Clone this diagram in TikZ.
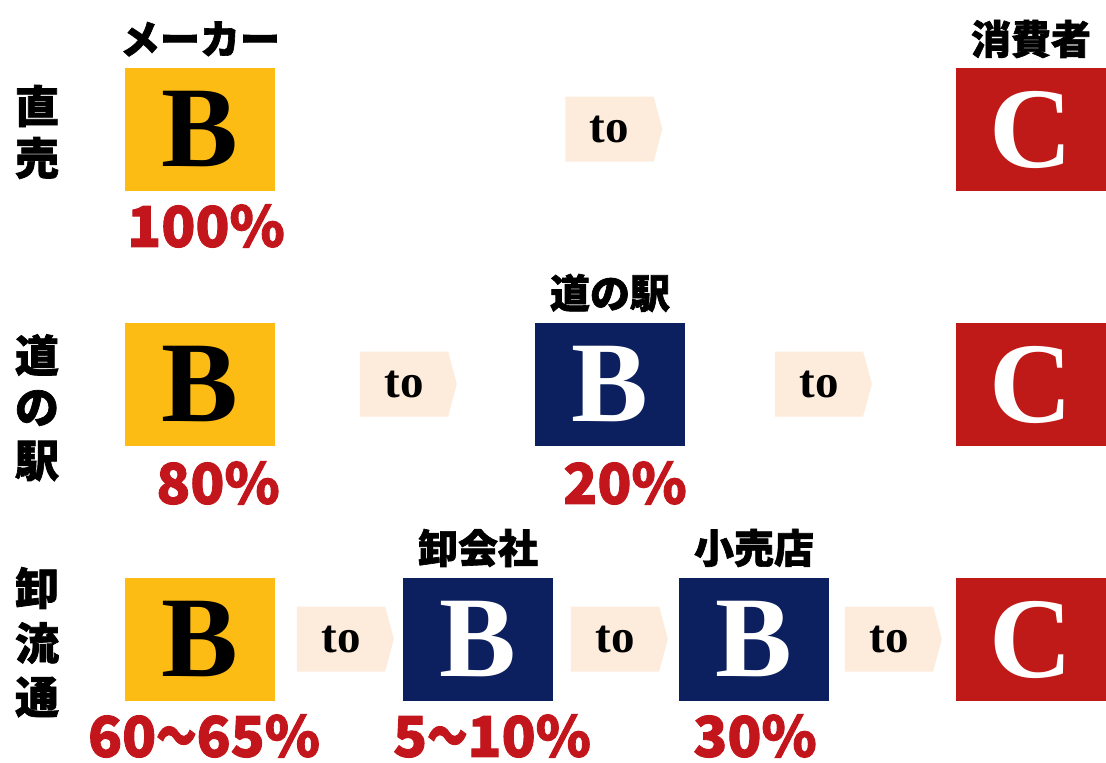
\documentclass[tikz,border=0pt]{standalone}
\usepackage{fontspec}
\usepackage{graphicx}
\setmainfont{Liberation Serif}
\newfontfamily\jp{Noto Sans CJK JP}[BoldFeatures={FakeBold=1.6}]
\usetikzlibrary{shapes.symbols}
\definecolor{byel}{HTML}{FDBC14}
\definecolor{bnavy}{HTML}{0C1F5E}
\definecolor{cred}{HTML}{BF1A17}
\definecolor{pct}{HTML}{C3161C}
\definecolor{peach}{HTML}{FDEBDC}
\newcommand{\wavedash}{\scalebox{0.72}[1]{〜}}
\newcommand{\tolabel}{\raisebox{-3pt}{to}}
\tikzset{
  boxbase/.style={minimum width=150pt, minimum height=123pt, inner sep=0pt, font=\fontsize{115}{115}\selectfont\bfseries},
  ybox/.style={boxbase, fill=byel, text=black},
  nbox/.style={boxbase, fill=bnavy, text=white},
  cbox/.style={boxbase, fill=cred, text=white},
  toarrow/.style={signal, signal to=east, signal pointer angle=150, fill=peach, minimum width=97pt, minimum height=65pt, inner sep=0pt, font=\fontsize{47}{47}\selectfont\bfseries},
  toplabel/.style={font=\jp\fontsize{40}{40}\selectfont\bfseries, inner sep=0pt},
  sidelabel/.style={font=\jp\fontsize{44}{44}\selectfont\bfseries, inner sep=0pt},
  pctlabel/.style={font=\jp\fontsize{56}{56}\selectfont\bfseries, text=pct, inner sep=0pt}
}
\begin{document}
\begin{tikzpicture}[x=1pt,y=-1pt]
\useasboundingbox (0,0) rectangle (1106,763);
% row 1
\node[ybox] (y1) at (200,129.5) {B};
\node[toarrow] (t1) at (609.5,129) {\tolabel};
\node[cbox] (c1) at (1031,129.5) {C};
\node[toplabel] (lm) at (200,39) {メーカー};
\node[toplabel] (lc) at (1031,39) {消費者};
\node[pctlabel] (p1) at (206,226) {100\%};
\node[sidelabel] (s11) at (37,106) {直};
\node[sidelabel] (s12) at (37,158) {売};
% row 2
\node[ybox] (y2) at (200,384.5) {B};
\node[toarrow] (t21) at (404,384) {\tolabel};
\node[nbox] (n2) at (610,384.5) {B};
\node[toarrow] (t22) at (819,384) {\tolabel};
\node[cbox] (c2) at (1031,384.5) {C};
\node[toplabel] (lr) at (610,293) {道の駅};
\node[pctlabel] (p21) at (218,483) {80\%};
\node[pctlabel] (p22) at (625,483) {20\%};
\node[sidelabel] (s21) at (37,355) {道};
\node[sidelabel] (s22) at (37,408) {の};
\node[sidelabel] (s23) at (37,461) {駅};
% row 3
\node[ybox] (y3) at (200,639.5) {B};
\node[toarrow] (t31) at (341,639) {\tolabel};
\node[nbox] (n31) at (478,639.5) {B};
\node[toarrow] (t32) at (615,639) {\tolabel};
\node[nbox] (n32) at (754,639.5) {B};
\node[toarrow] (t33) at (889,639) {\tolabel};
\node[cbox] (c3) at (1031,639.5) {C};
\node[toplabel] (lw) at (478,548) {卸会社};
\node[toplabel] (ls) at (754,548) {小売店};
\node[pctlabel] (p31) at (204,736) {60\wavedash 65\%};
\node[pctlabel] (p32) at (492,736) {5\wavedash 10\%};
\node[pctlabel] (p33) at (755,736) {30\%};
\node[sidelabel] (s31) at (37,588) {卸};
\node[sidelabel] (s32) at (37,643) {流};
\node[sidelabel] (s33) at (37,697) {通};
\end{tikzpicture}
\end{document}
